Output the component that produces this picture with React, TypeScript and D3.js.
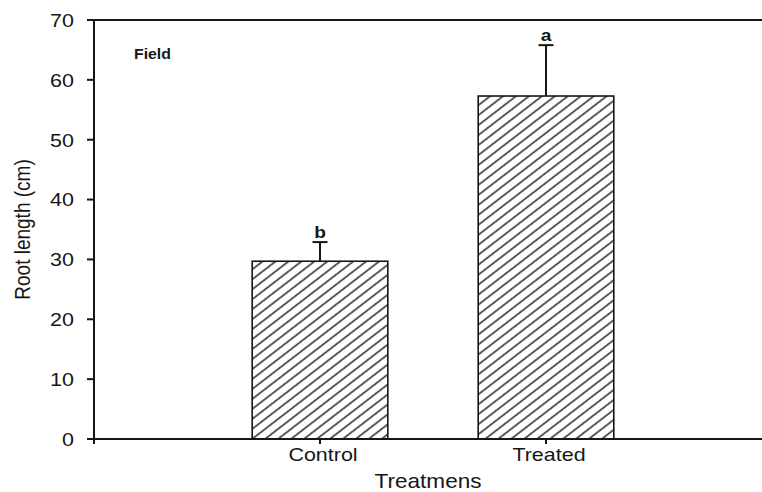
import React from "react";
import * as d3 from "d3";

const categories = ["Control", "Treated"];
const means = [29.7, 57.3];
const errors = [3.2, 8.5];
const letters = ["b", "a"];
const yTicks = [0, 10, 20, 30, 40, 50, 60, 70];
const panelLabel = "Field";
const xTitle = "Treatmens";
const yTitle = "Root length (cm)";

const W = 762;
const H = 492;
const left = 94;
const top = 20;
const bottom = 439;
const SX = 1.13;

export default function App() {
  const y = d3.scaleLinear().domain([0, 70]).range([bottom, top]);
  const x = d3.scaleLinear().domain([0, 3]).range([left, 772]);
  const barW = x(0.6) - x(0);
  const ink = "#161616";
  const font = "Liberation Sans, Arial, Helvetica, sans-serif";

  const T = (
    px: number,
    py: number,
    content: string,
    size: number,
    anchor: string,
    weight: string = "normal",
    dy: string = "0"
  ) => (
    <text
      transform={`translate(${px},${py}) scale(${SX},1)`}
      dy={dy}
      textAnchor={anchor}
      fontFamily={font}
      fontSize={size}
      fontWeight={weight}
      fill={ink}
    >
      {content}
    </text>
  );

  return (
    <svg
      width={W}
      height={H}
      style={{ position: "absolute", left: 0, top: 0, background: "#fff" }}
    >
      <defs>
        <pattern
          id="hatch"
          patternUnits="userSpaceOnUse"
          width={10}
          height={7.9}
          patternTransform="rotate(-37.6)"
        >
          <line x1={-1} x2={11} y1={3.95} y2={3.95} stroke={ink} strokeWidth={1.4} />
        </pattern>
      </defs>
      <rect x={0} y={0} width={W} height={H} fill="#fff" />

      {categories.map((c, i) => {
        const cx = x(i + 1);
        const yTop = y(means[i]);
        const yErr = y(means[i] + errors[i]);
        return (
          <g key={c}>
            <rect
              x={cx - barW / 2}
              y={yTop}
              width={barW}
              height={bottom - yTop}
              fill="url(#hatch)"
              stroke={ink}
              strokeWidth={1.6}
            />
            <line x1={cx} x2={cx} y1={yTop} y2={yErr} stroke={ink} strokeWidth={2} />
            <line x1={cx - 7.5} x2={cx + 7.5} y1={yErr} y2={yErr} stroke={ink} strokeWidth={2} />
            {T(cx, yErr - 4, letters[i], 17, "middle", "bold")}
          </g>
        );
      })}

      <line x1={left} x2={W} y1={top} y2={top} stroke={ink} strokeWidth={2} />
      <line x1={left} x2={W} y1={bottom} y2={bottom} stroke={ink} strokeWidth={2} />
      <line x1={left} x2={left} y1={top - 1} y2={bottom + 5} stroke={ink} strokeWidth={2} />

      {yTicks.map((t) => (
        <g key={t}>
          <line x1={left - 7} x2={left} y1={y(t)} y2={y(t)} stroke={ink} strokeWidth={2} />
          {T(left - 20, y(t), String(t), 19, "end", "normal", "0.36em")}
        </g>
      ))}

      {categories.map((c, i) => (
        <g key={c}>
          <line x1={x(i + 1)} x2={x(i + 1)} y1={bottom} y2={bottom + 5} stroke={ink} strokeWidth={2} />
          {T(x(i + 1) + 3, 461, c, 19, "middle")}
        </g>
      ))}

      {T((left + W) / 2, 488, xTitle, 20, "middle")}

      <text
        transform={`translate(30, ${(top + bottom) / 2}) rotate(-90) scale(1,${SX})`}
        textAnchor="middle"
        fontFamily={font}
        fontSize={19}
        fill={ink}
      >
        {yTitle}
      </text>

      {T(134, 59, panelLabel, 14, "start", "bold")}
    </svg>
  );
}
